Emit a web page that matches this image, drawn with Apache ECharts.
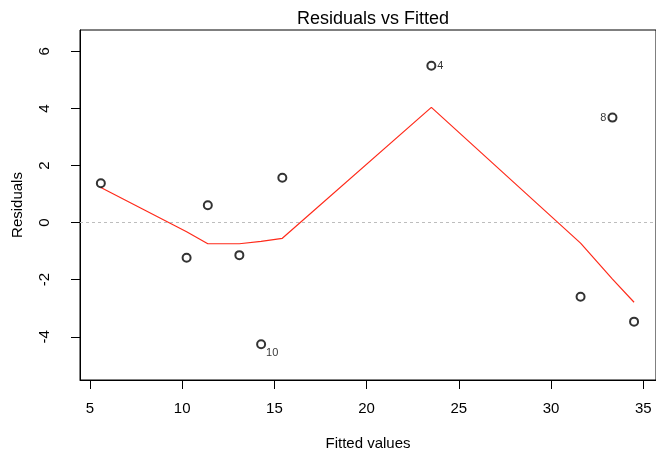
<!DOCTYPE html>
<html>
<head>
<meta charset="utf-8">
<script src="https://cdn.jsdelivr.net/npm/echarts@6/dist/echarts.min.js"></script>
<style>html,body{margin:0;padding:0;background:#fff}#c{width:656px;height:456px}</style>
</head>
<body>
<div id="c"></div>
<script>
// Data
const fitted    = [5.59, 10.24, 11.39, 13.10, 14.28, 15.43, 23.51, 31.60, 33.33, 34.50];
const residuals = [1.38, -1.23, 0.61, -1.14, -4.26, 1.57, 5.50, -2.60, 3.68, -3.47];
const smooth    = [1.23, -0.32, -0.74, -0.74, -0.66, -0.55, 4.04, -0.72, -1.98, -2.79];
const obsLabels = ["", "", "", "", "10", "", "4", "", "8", ""];
const xTicks = [5, 10, 15, 20, 25, 30, 35];
const yTicks = [-4, -2, 0, 2, 4, 6];

const labelStyle = {
  "10": { position: [10, 8], align: 'left', verticalAlign: 'top' },
  "4":  { position: 'right', distance: 1 },
  "8":  { position: 'left', distance: 1 }
};

const FONT = 'Liberation Sans, Arial, Helvetica, sans-serif';
const chart = echarts.init(document.getElementById('c'), null, { renderer: 'canvas' });

const scatterData = fitted.map((x, i) => {
  const d = { value: [x, residuals[i]] };
  const lab = obsLabels[i];
  if (lab) {
    d.label = Object.assign({
      show: true, formatter: lab, fontSize: 11, color: '#000', fontFamily: FONT
    }, labelStyle[lab]);
  }
  return d;
});

chart.setOption({
  animation: false,
  backgroundColor: '#fff',
  title: {
    text: 'Residuals vs Fitted',
    left: 368, top: 5, textAlign: 'center',
    textStyle: { fontSize: 18, fontWeight: 'normal', color: '#000', fontFamily: FONT }
  },
  grid: {
    left: 80, top: 30, right: -2, bottom: 76,
    show: true, borderColor: '#000', borderWidth: 1, backgroundColor: '#fff'
  },
  xAxis: {
    type: 'value', min: 4.46, max: 35.69,
    name: 'Fitted values', nameLocation: 'middle', nameGap: 56,
    nameTextStyle: { fontSize: 15, color: '#000', fontFamily: FONT },
    axisLine: { show: true, onZero: false, lineStyle: { color: '#000', width: 1 } },
    axisTick: { show: true, inside: false, length: 9, customValues: xTicks, lineStyle: { color: '#000' } },
    axisLabel: { customValues: xTicks, margin: 21, fontSize: 15, color: '#000', fontFamily: FONT },
    splitLine: { show: false }
  },
  yAxis: {
    type: 'value', min: -5.515, max: 6.75,
    name: 'Residuals', nameLocation: 'middle', nameGap: 55,
    nameTextStyle: { fontSize: 15, color: '#000', fontFamily: FONT },
    axisLine: { show: true, onZero: false, lineStyle: { color: '#000', width: 1 } },
    axisTick: { show: true, inside: false, length: 9, customValues: yTicks, lineStyle: { color: '#000' } },
    axisLabel: { customValues: yTicks, rotate: 90, margin: 28, fontSize: 15, color: '#000', fontFamily: FONT },
    splitLine: { show: false }
  },
  series: [
    {
      type: 'line',
      data: fitted.map((x, i) => [x, smooth[i]]),
      showSymbol: false, symbol: 'none', smooth: false,
      lineStyle: { color: '#ff2a1a', width: 1.2 },
      z: 2,
      markLine: {
        silent: true, symbol: ['none', 'none'],
        label: { show: false },
        lineStyle: { color: '#bdbdbd', type: [3, 3], width: 1 },
        data: [{ yAxis: 0 }]
      }
    },
    {
      type: 'scatter',
      data: scatterData,
      symbol: 'emptyCircle', symbolSize: 8,
      itemStyle: { color: '#000', borderColor: '#000', borderWidth: 1 },
      z: 3
    }
  ]
});
</script>
</body>
</html>
